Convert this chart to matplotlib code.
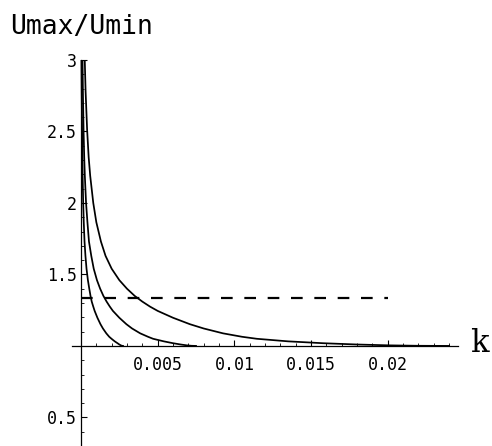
import matplotlib
matplotlib.use("Agg")
import matplotlib.pyplot as plt
import numpy as np

# --- donnees (Umax/Umin en fonction de k) ---
k1 = [0.00003, 0.000045, 0.00007, 0.00009, 0.000107, 0.000143, 0.00018, 0.00023,
      0.00029, 0.00036, 0.00045, 0.00054, 0.00062, 0.0007, 0.0008, 0.00089,
      0.00107, 0.00127, 0.00143, 0.00165, 0.00184, 0.00199, 0.0022, 0.00238,
      0.0025, 0.0026, 0.00267, 0.00274]
u1 = [3.0, 2.78, 2.51, 2.32, 2.19, 2.0, 1.865, 1.73,
      1.63, 1.54, 1.46, 1.40, 1.35, 1.31, 1.275, 1.245,
      1.197, 1.152, 1.122, 1.088, 1.064, 1.05, 1.032, 1.019,
      1.01, 1.004, 1.001, 1.0]

k2 = [0.0001, 0.000125, 0.000167, 0.00021, 0.00025, 0.00033, 0.00042, 0.00052,
      0.00067, 0.00083, 0.00104, 0.00125, 0.00146, 0.00167, 0.00188, 0.00208,
      0.0025, 0.00296, 0.00333, 0.00386, 0.00437, 0.0047, 0.0054, 0.006,
      0.0065, 0.0069, 0.0072, 0.0075]
u2 = [3.0, 2.78, 2.51, 2.32, 2.19, 2.0, 1.865, 1.73,
      1.63, 1.54, 1.46, 1.40, 1.35, 1.31, 1.275, 1.245,
      1.197, 1.152, 1.122, 1.088, 1.064, 1.05, 1.032, 1.019,
      1.01, 1.004, 1.001, 1.0]

k3 = [0.000245, 0.0003, 0.0004, 0.0005, 0.0006, 0.0008, 0.001, 0.0013,
      0.0016, 0.002, 0.0025, 0.003, 0.0035, 0.004, 0.0045, 0.005,
      0.006, 0.0071, 0.008, 0.00926, 0.0105, 0.01146, 0.0135, 0.01578,
      0.018, 0.0201, 0.022, 0.024]
u3 = [3.0, 2.78, 2.51, 2.32, 2.19, 2.0, 1.865, 1.73,
      1.63, 1.54, 1.46, 1.40, 1.35, 1.31, 1.275, 1.245,
      1.197, 1.152, 1.122, 1.088, 1.064, 1.05, 1.032, 1.019,
      1.01, 1.004, 1.001, 1.0]

k_seuil = [0.0, 0.02]
u_seuil = [4 / 3, 4 / 3]

xticks = [0.005, 0.01, 0.015, 0.02]
xlabels = ["0.005", "0.01", "0.015", "0.02"]
yticks = [0.5, 1.5, 2, 2.5, 3]
ylabels = ["0.5", "1.5", "2", "2.5", "3"]

W, H = 492, 446
fig = plt.figure(figsize=(W / 100, H / 100), dpi=100)
# axes de 72 px a 458 px en x, de 60 px (haut) jusqu'au bas de la figure
ax = fig.add_axes([72 / W, 0.0, (458 - 72) / W, (H - 60) / H])
px = 0.005 / 76.7
ax.set_xlim(-9 * px, 0.02458)
ax.set_ylim(0.3, 3.0)

for k, u in [(k1, u1), (k2, u2), (k3, u3)]:
    ax.plot(k, u, color="black", lw=1.25, solid_joinstyle="round")

lw_d = 1.6
ax.plot(k_seuil, u_seuil, color="black", lw=lw_d, dashes=(8.4 / lw_d, 8.4 / lw_d))

# axes a la Mathematica
for s in ["top", "right"]:
    ax.spines[s].set_visible(False)
ax.spines["left"].set_position(("data", 0))
ax.spines["bottom"].set_position(("data", 1))
ax.spines["left"].set_linewidth(0.9)
ax.spines["bottom"].set_linewidth(0.9)

mono = "DejaVu Sans Mono"
ax.set_xticks(xticks)
ax.set_xticklabels(xlabels, family=mono, fontsize=12)
ax.set_xticks(np.round(np.arange(0.001, 0.0245, 0.001), 4), minor=True)
ax.set_yticks(yticks)
ax.set_yticklabels(ylabels, family=mono, fontsize=12)
ax.set_yticks([v / 10 for v in range(3, 30) if v % 5 != 0], minor=True)

ax.tick_params(which="major", direction="in", length=4, width=0.8)
ax.tick_params(which="minor", direction="in", length=2.4, width=0.6)
ax.tick_params(axis="x", which="major", pad=7)
ax.tick_params(axis="y", which="major", pad=3)

fig.text(10 / W, 1 - 27 / H, "Umax/Umin", family=mono, fontsize=19,
         ha="left", va="center")
fig.text(479 / W, 1 - 344 / H, "k", family="DejaVu Serif", fontsize=22,
         ha="center", va="center")

fig.savefig("out.png", dpi=100)
